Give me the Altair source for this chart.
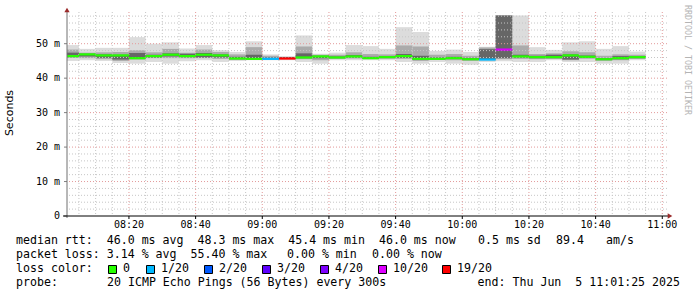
import altair as alt
import pandas as pd

# ---- data (5-minute SmokePing steps, end time of each step) ----
STEP_END = ["08:05", "08:10", "08:15", "08:20", "08:25", "08:30", "08:35", "08:40", "08:45", "08:50", "08:55",
            "09:00", "09:05", "09:10", "09:15", "09:20", "09:25", "09:30", "09:35", "09:40", "09:45", "09:50", "09:55",
            "10:00", "10:05", "10:10", "10:15", "10:20", "10:25", "10:30", "10:35", "10:40", "10:45", "10:50", "10:55"]

MIN_RTT = [45.0, 45.2, 45.0, 44.4, 44.2, 44.7, 44.2, 44.9, 45.2, 44.7, 45.0, 45.2, 45.2, 45.2, 44.7, 44.2, 45.2,
           45.2, 45.2, 45.2, 44.7, 44.2, 44.7, 44.2, 43.9, 44.7, 44.9, 44.7, 44.7, 45.2, 44.7, 44.7, 44.2, 44.2, 45.2]
Q_LO = [45.9, 45.8, 45.5, 45.0, 45.4, 45.8, 45.8, 45.8, 45.8, 45.6, 45.3, 45.4, 45.4, 45.5, 45.5, 45.2, 45.6,
        45.7, 45.6, 45.6, 45.6, 45.0, 45.3, 45.2, 45.0, 45.2, 45.5, 45.6, 45.5, 45.6, 45.2, 45.6, 45.0, 45.2, 45.6]
C_LO = [46.1, 46.3, 45.9, 45.4, 45.7, 46.0, 46.3, 46.1, 46.0, 46.0, 45.5, 45.6, 45.5, 45.6, 45.8, 45.8, 45.8,
        46.0, 45.7, 45.9, 45.9, 45.4, 45.5, 45.6, 45.3, 45.4, 45.8, 46.0, 45.8, 45.8, 45.4, 45.9, 45.3, 45.5, 45.8]
MEDIAN = [46.4, 46.9, 46.6, 46.6, 45.8, 46.4, 46.8, 46.4, 46.8, 46.6, 45.7, 45.6, 45.6, 45.7, 46.0, 46.3, 46.0,
          46.3, 45.8, 46.1, 46.4, 45.6, 45.6, 45.8, 45.5, 45.4, 48.3, 46.3, 46.1, 46.1, 46.6, 46.2, 45.5, 45.8, 46.1]
C_HI = [47.4, 47.1, 46.9, 46.8, 47.3, 46.8, 47.2, 47.1, 47.3, 46.9, 46.2, 46.8, 46.0, 46.1, 47.2, 46.5, 46.3,
        46.7, 46.2, 46.4, 47.0, 46.5, 46.0, 46.2, 45.9, 48.4, 58.2, 46.8, 46.5, 46.8, 46.9, 46.6, 45.8, 46.4, 46.4]
Q_HI = [48.3, 47.4, 47.5, 47.6, 48.1, 47.5, 48.5, 47.4, 48.3, 47.6, 46.9, 49.0, 46.5, 46.2, 49.2, 46.8, 46.8,
        47.5, 47.0, 46.9, 49.5, 49.2, 46.8, 47.0, 46.5, 48.9, 58.2, 49.5, 47.0, 47.2, 47.8, 47.5, 46.5, 46.9, 46.8]
MAX_RTT = [49.6, 48.5, 48.8, 48.8, 51.9, 50.0, 50.4, 48.6, 49.6, 48.1, 47.6, 50.7, 46.9, 46.3, 52.4, 47.1, 47.4,
           49.6, 49.3, 48.5, 54.8, 53.4, 47.9, 48.3, 47.6, 49.1, 58.2, 58.2, 49.0, 48.2, 50.4, 50.7, 48.5, 49.3, 47.7]
LOSS = ["0", "0", "0", "0", "0", "0", "0", "0", "0", "0", "0", "0", "1/20", "19/20", "0", "0", "0",
        "0", "0", "0", "0", "0", "0", "0", "0", "1/20", "10/20", "0", "0", "0", "0", "0", "0", "0", "0"]

LOSS_LABELS = ["0", "1/20", "2/20", "3/20", "4/20", "10/20", "19/20"]
LOSS_COLORS = ["#26ff00", "#00b8ff", "#0059ff", "#5e00ff", "#7e00ff", "#dd00ff", "#ff0000"]

X_TICK_LABELS = ["08:20", "08:40", "09:00", "09:20", "09:40", "10:00", "10:20", "10:40", "11:00"]
Y_TICK_VALUES = [0, 10, 20, 30, 40, 50]
Y_TICK_LABELS = ["0", "10 m", "20 m", "30 m", "40 m", "50 m"]

# legend text segments: (text, left x in page pixels)
LINE1 = [("median rtt:  46.0 ms avg  48.3 ms max  45.4 ms min  46.0 ms now", 16),
         ("0.5 ms sd", 478), ("89.4", 556), ("am/s", 606)]
LINE2 = [("packet loss: 3.14 % avg  55.40 % max", 16), ("0.00 % min", 287), ("0.00 % now", 372)]
LINE3 = [("loss color:", 16)]
LINE4 = [("probe:", 16), ("20 ICMP Echo Pings (56 Bytes) every 300s", 107)]
LINE4_END = "end: Thu Jun  5 11:01:25 2025"
WATERMARK = "RRDTOOL / TOBI OETIKER"
Y_TITLE = "Seconds"


def to_min(s):
    h, m = s.split(":")
    return (int(h) - 8) * 60 + int(m)


W_START = 1 + 25 / 60.0   # 08:01:25
W_END = 181 + 25 / 60.0   # 11:01:25
LEFT, TOP = 67, 12

ends = [to_min(s) for s in STEP_END]
starts = [max(e - 5, W_START) for e in ends]
df = pd.DataFrame({"start": starts, "end": ends, "mn": MIN_RTT, "q1": Q_LO, "c1": C_LO,
                   "med": MEDIAN, "c2": C_HI, "q3": Q_HI, "mx": MAX_RTT, "loss": LOSS})

tick_min = [to_min(s) for s in X_TICK_LABELS]
xt = pd.DataFrame({"v": tick_min, "lab": X_TICK_LABELS})
yt = pd.DataFrame({"v": Y_TICK_VALUES, "lab": Y_TICK_LABELS})

XS = alt.Scale(domain=[W_START, W_END], nice=False, zero=False)
YS = alt.Scale(domain=[0, 59.2], nice=False, zero=False)
MONO = "DejaVu Sans Mono"


def X(f):
    return alt.X(f, scale=XS, axis=None)


def Y(f):
    return alt.Y(f, scale=YS, axis=None)


base = alt.Chart(df)
outer = base.mark_rect(color="#dcdcdc").encode(x=X("start:Q"), x2="end:Q", y=Y("mn:Q"), y2="mx:Q")
mid = base.mark_rect(color="#ababab").encode(x=X("start:Q"), x2="end:Q", y=Y("q1:Q"), y2="q3:Q")
core = base.mark_rect(color="#666666").encode(x=X("start:Q"), x2="end:Q", y=Y("c1:Q"), y2="c2:Q")

# grid
h_minor = pd.DataFrame({"v": [v for v in range(2, 59, 2) if v % 10]})
h_major = pd.DataFrame({"v": list(range(10, 59, 10))})
v_minor = pd.DataFrame({"v": [m for m in range(5, 181, 5) if m % 20]})

g1 = alt.Chart(h_minor).mark_rule(color="#c6c6c6", strokeDash=[1, 2], strokeWidth=1).encode(y=Y("v:Q"))
g2 = alt.Chart(v_minor).mark_rule(color="#c6c6c6", strokeDash=[1, 2], strokeWidth=1).encode(x=X("v:Q"))
g3 = alt.Chart(h_major).mark_rule(color="#e39a9a", strokeDash=[1, 2], strokeWidth=1).encode(y=Y("v:Q"))
g4 = alt.Chart(xt).mark_rule(color="#e39a9a", strokeDash=[1, 2], strokeWidth=1).encode(x=X("v:Q"))

median = base.mark_rule(strokeWidth=2.2).encode(
    x=X("start:Q"), x2="end:Q", y=Y("med:Q"),
    color=alt.Color("loss:N", scale=alt.Scale(domain=LOSS_LABELS, range=LOSS_COLORS), legend=None))

layers = [outer, mid, core, g1, g2, g3, g4, median]

# tick labels and tick marks
layers.append(alt.Chart(xt).mark_text(font=MONO, fontSize=10, color="#000000", baseline="middle",
                                      align="center").encode(x=X("v:Q"), y=alt.value(212.5), text="lab:N"))
layers.append(alt.Chart(xt).mark_rule(color="#000000", strokeWidth=1).encode(
    x=X("v:Q"), y=alt.value(204), y2=alt.value(207)))
layers.append(alt.Chart(yt).mark_text(font=MONO, fontSize=10, color="#000000", baseline="middle",
                                      align="right").encode(x=alt.value(-7), y=Y("v:Q"), text="lab:N"))
layers.append(alt.Chart(yt).mark_rule(color="#808080", strokeWidth=1).encode(
    y=Y("v:Q"), x=alt.value(-3), x2=alt.value(0)))

one = pd.DataFrame({"a": [0]})
# axis lines and arrows
layers.append(alt.Chart(one).mark_rule(color="#707070", strokeWidth=1).encode(
    x=alt.value(0), y=alt.value(-2), y2=alt.value(206)))
layers.append(alt.Chart(one).mark_rule(color="#000000", strokeWidth=1).encode(
    x=alt.value(-4), x2=alt.value(602), y=alt.value(204)))
layers.append(alt.Chart(one).mark_point(shape="triangle-up", filled=True, size=28, color="#9b2b2b",
                                        opacity=1).encode(x=alt.value(0), y=alt.value(-2)))
layers.append(alt.Chart(one).mark_point(shape="triangle-right", filled=True, size=28, color="#9b2b2b",
                                        opacity=1).encode(x=alt.value(603), y=alt.value(204)))


def nb(s):
    return s.replace(" ", "\u00a0")


TXT = dict(font=MONO, fontSize=11.6, color="#000000", align="left", baseline="middle")
for segs, py in [(LINE1, 241), (LINE2, 255), (LINE3, 269), (LINE4, 283)]:
    for s, px in segs:
        layers.append(alt.Chart(one).mark_text(text=nb(s), **TXT).encode(
            x=alt.value(px - LEFT), y=alt.value(py - TOP)))
layers.append(alt.Chart(one).mark_text(text=nb(LINE4_END), **dict(TXT, align="right")).encode(
    x=alt.value(680 - LEFT), y=alt.value(283 - TOP)))

box_x = [108, 146, 204, 262, 320, 378, 442]
for bx, lab, col in zip(box_x, LOSS_LABELS, LOSS_COLORS):
    layers.append(alt.Chart(one).mark_rect(color=col, stroke="#000000", strokeWidth=1).encode(
        x=alt.value(bx - LEFT + 0.5), x2=alt.value(bx - LEFT + 8.5),
        y=alt.value(265.5 - TOP), y2=alt.value(273.5 - TOP)))
    layers.append(alt.Chart(one).mark_text(text=nb(lab), **TXT).encode(
        x=alt.value(bx - LEFT + 15), y=alt.value(269 - TOP)))

layers.append(alt.Chart(one).mark_text(text=Y_TITLE, font="DejaVu Sans", fontSize=11, color="#000000",
                                       angle=270, align="center", baseline="middle").encode(
    x=alt.value(10 - LEFT), y=alt.value(113 - TOP)))
layers.append(alt.Chart(one).mark_text(text=nb(WATERMARK), font=MONO, fontSize=8.3, color="#b4b4b4",
                                       angle=90, align="left", baseline="middle").encode(
    x=alt.value(687 - LEFT), y=alt.value(5 - TOP)))

chart = alt.layer(*layers).properties(
    width=600, height=204,
    padding={"left": LEFT, "top": TOP, "right": 30, "bottom": 81},
    autosize=alt.AutoSizeParams(type="none"),
    background="#ffffff",
).configure_view(stroke=None)

chart.save("out.html", embed_options={"renderer": "svg", "actions": False})
